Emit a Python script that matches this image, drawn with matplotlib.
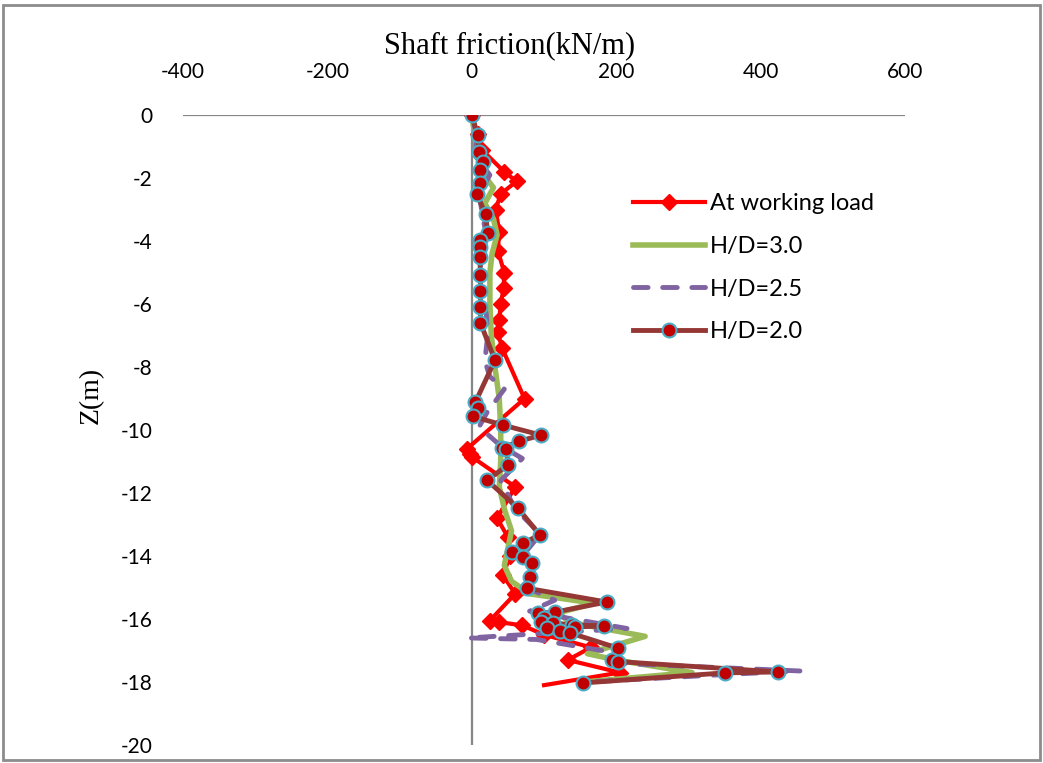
import numpy as np
import matplotlib.pyplot as plt
from matplotlib.lines import Line2D
from matplotlib.legend_handler import HandlerLine2D
from matplotlib.patches import Rectangle

plt.rcParams["axes.unicode_minus"] = False

# At working load (shaft friction kN/m, depth m)
work_f = [0, 8, 14, 45, 62, 40, 33, 38, 36, 45, 44, 40, 38, 36, 42, 73, -7, -3, 0,
          60, 35, 50, 53, 43, 60, 25, 38, 70, 100, 165, 133, 205, 100]
work_z = [0, -0.6, -1.1, -1.8, -2.1, -2.5, -3.0, -3.7, -4.3, -5.0, -5.5, -6.0, -6.5,
          -6.9, -7.4, -9.0, -10.6, -10.75, -10.85, -11.8, -12.8, -13.4, -14.0, -14.6,
          -15.2, -16.05, -16.1, -16.2, -16.5, -16.9, -17.3, -17.7, -18.1]

# H/D = 3.0
hd30_f = [0, 5, 10, 20, 30, 18, 30, 35, 28, 25, 25, 27, 32, 38, 40, 40, 38, 45, 55,
          45, 55, 80, 170, 120, 135, 240, 160, 200, 305, 155]
hd30_z = [0, -0.8, -1.5, -2.0, -2.3, -2.8, -3.3, -3.8, -4.4, -5.0, -6.0, -7.0, -8.0,
          -9.0, -10.0, -11.0, -11.8, -12.5, -13.2, -14.3, -14.8, -15.2, -15.5, -15.8,
          -16.1, -16.55, -17.1, -17.3, -17.7, -18.0]

# H/D = 2.5
hd25_f = [0, 6, 5, 25, 10, 15, 20, 12, 12, 20, 22, 18, 25, 45, 22, 10, 40, 70, 40,
          60, 95, 70, 85, 75, 115, 80, 140, 215, -5, 90, 180, 195, 455, 360, 160]
hd25_z = [0, -0.6, -1.3, -1.9, -2.5, -3.2, -3.8, -4.4, -5.5, -6.3, -7.0, -7.8, -8.3,
          -8.7, -9.4, -9.9, -10.5, -10.9, -11.6, -12.5, -13.3, -14.0, -14.5, -15.0,
          -15.4, -15.75, -16.0, -16.3, -16.6, -16.65, -17.0, -17.4, -17.65, -17.75, -18.0]

# H/D = 2.0
hd20_f = [0, 8, 10, 15, 11, 11, 7, 19, 22, 12, 11, 11, 12, 12, 12, 12, 32, 5, 8, 1,
          43, 96, 66, 42, 48, 50, 21, 64, 94, 71, 55, 71, 83, 80, 76, 187, 115, 91,
          100, 96, 112, 139, 183, 143, 104, 122, 136, 202, 194, 202, 424, 350, 154]
hd20_z = [0, -0.63, -1.17, -1.49, -1.75, -2.16, -2.51, -3.14, -3.75, -3.97, -4.19,
          -4.51, -5.08, -5.59, -6.10, -6.60, -7.78, -9.11, -9.30, -9.56, -9.84, -10.16,
          -10.35, -10.57, -10.60, -11.11, -11.59, -12.48, -13.33, -13.59, -13.87, -14.03,
          -14.22, -14.67, -15.02, -15.46, -15.78, -15.82, -15.97, -16.08, -16.12, -16.19,
          -16.22, -16.25, -16.30, -16.38, -16.44, -16.92, -17.31, -17.35, -17.68,
          -17.71, -18.03]

x_ticks = [-400, -200, 0, 200, 400, 600]
y_ticks = list(range(0, -21, -2))


class LeftMarker(HandlerLine2D):
    # marker drawn at the left end of the legend line, like Excel
    def get_xdata(self, legend, xdescent, ydescent, width, height, fontsize):
        xdata = np.array([-xdescent, -xdescent + width])
        return xdata, np.array([-xdescent])


fig = plt.figure(figsize=(10.43, 7.63), dpi=100)
fig.patches.append(Rectangle((0.003, 0.004), 0.994, 0.99, transform=fig.transFigure,
                             fill=False, edgecolor="#8c8c8c", linewidth=2))
ax = fig.add_axes([0.1755, 0.0236, 0.6922, 0.8254])

ax.axhline(0, color="#868686", lw=1.6, zorder=1)
ax.axvline(0, color="#868686", lw=1.6, zorder=1)

# last point of the working-load curve has no visible marker
l1, = ax.plot(work_f, work_z, color="#ff0000", lw=3, marker="D", ms=8,
              mfc="#ff0000", mec="#ff0000", label="At working load", zorder=2,
              markevery=list(range(len(work_f) - 1)))
l2, = ax.plot(hd30_f, hd30_z, color="#9bbb59", lw=4, label="H/D=3.0", zorder=3)
l3, = ax.plot(hd25_f, hd25_z, color="#8064a2", lw=3.5, ls=(0, (3, 3)),
              dash_capstyle="round", label="H/D=2.5", zorder=4)
l4, = ax.plot(hd20_f, hd20_z, color="#953735", lw=3.5, marker="o", ms=10,
              mfc="#c00000", mec="#4bacc6", mew=1.5, label="H/D=2.0", zorder=5)

ax.set_xlim(-400, 600)
ax.set_ylim(-20, 0)
ax.set_xticks(x_ticks)
ax.set_yticks(y_ticks)
for s in ax.spines.values():
    s.set_visible(False)
ax.xaxis.tick_top()
ax.tick_params(axis="x", length=0, pad=24, labelsize=15)
ax.tick_params(axis="y", length=0, pad=22, labelsize=15)
for t in ax.get_xticklabels() + ax.get_yticklabels():
    t.set_fontfamily("Lato")

fig.text(0.489, 0.94, "Shaft friction(kN/m)", ha="center", va="center",
         fontsize=22, family="Liberation Serif")
fig.text(0.088, 0.482, "Z(m)", ha="center", va="center", rotation=90,
         fontsize=20, family="Liberation Serif")

proxy1 = Line2D([], [], color="#ff0000", lw=3, marker="D", ms=8,
                mfc="#ff0000", mec="#ff0000")
leg = ax.legend(handles=[proxy1, l2, l3, l4],
                labels=["At working load", "H/D=3.0", "H/D=2.5", "H/D=2.0"],
                loc="upper left", bbox_to_anchor=(0.594, 0.91), frameon=False,
                prop={"family": "Lato", "size": 17}, handlelength=3.05,
                labelspacing=0.92, handletextpad=0.2,
                handler_map={proxy1: LeftMarker(), l4: HandlerLine2D(numpoints=1)})

fig.savefig("out.png", dpi=100)
